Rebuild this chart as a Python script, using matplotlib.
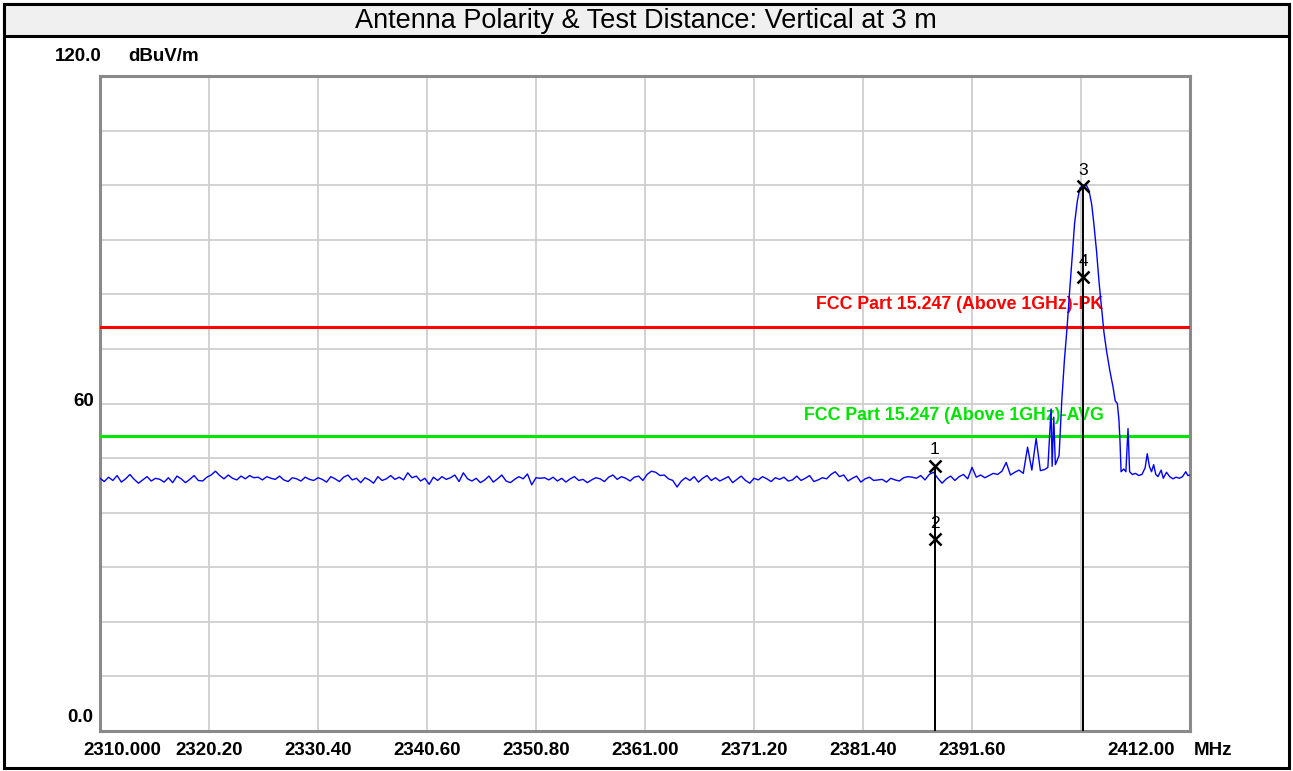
import numpy as np
import matplotlib
matplotlib.use("Agg")
import matplotlib.pyplot as plt
from matplotlib.patches import Rectangle

# ---------------- data ----------------
title = "Antenna Polarity & Test Distance: Vertical at 3 m"
y_unit = "dBuV/m"
x_unit = "MHz"

x_min, x_max = 2310.0, 2412.0
y_min, y_max = 0.0, 120.0
x_grid = [2320.2, 2330.4, 2340.6, 2350.8, 2361.0, 2371.2, 2381.4, 2391.6, 2401.8]
y_grid = [10, 20, 30, 40, 50, 60, 70, 80, 90, 100, 110]
x_tick_pos = [2310.0, 2320.2, 2330.4, 2340.6, 2350.8, 2361.0, 2371.2, 2381.4, 2391.6, 2412.0]
x_tick_text = ["2310.000", "2320.20", "2330.40", "2340.60", "2350.80", "2361.00",
               "2371.20", "2381.40", "2391.60", "2412.00"]
y_tick_pos = [120.0, 60.0, 0.0]
y_tick_text = ["120.0", "60", "0.0"]

# swept noise floor, 0.4 MHz sample spacing from 2310.0 to 2398.0 MHz
noise_start = 2310.0
noise_step = 0.4
noise_level = [
    46.3, 45.7, 46.5, 45.9, 46.8, 45.6, 46.2, 47.0, 46.1, 45.4,
    46.0, 46.6, 45.8, 46.3, 46.1, 45.6, 46.4, 45.5, 46.7, 46.2,
    45.5, 46.1, 46.8, 45.9, 45.8, 46.5, 46.9, 47.6, 46.8, 46.2,
    46.9, 46.3, 46.0, 46.7, 46.2, 46.8, 46.4, 46.5, 46.0, 46.6,
    46.3, 46.1, 46.7, 46.0, 45.7, 46.4, 46.2, 45.8, 46.5, 46.1,
    45.9, 46.4, 46.1, 45.6, 46.6, 46.2, 45.7, 46.5, 46.9, 46.0,
    46.3, 45.5, 46.4, 46.0, 45.4, 46.6, 45.9, 46.2, 46.8, 46.1,
    46.5, 46.0, 47.3, 46.4, 46.7, 45.8, 46.3, 45.2, 46.5, 45.9,
    46.6, 46.1, 46.4, 46.9, 45.7, 47.3, 46.2, 45.8, 46.3, 45.5,
    46.0, 46.7, 45.6, 46.2, 46.9, 45.8, 45.5, 46.1, 46.6, 46.2,
    47.1, 45.1, 46.4, 46.3, 46.4, 46.0, 46.5, 45.8, 46.3, 45.6,
    46.2, 46.6, 45.9, 46.1, 45.5, 46.0, 46.4, 46.2, 45.7, 46.5,
    46.9, 46.1, 46.6, 46.3, 45.8, 46.5, 46.7, 45.9, 47.0, 47.6,
    47.4, 46.8, 46.9, 46.2, 45.9, 44.7, 45.8, 46.4, 45.9, 46.6,
    45.6, 46.3, 46.8, 45.9, 46.4, 45.8, 46.2, 46.6, 45.5, 46.1,
    46.7, 45.9, 45.4, 46.3, 46.0, 46.6, 46.2, 45.7, 46.4, 46.1,
    46.5, 45.8, 46.0, 46.7, 45.9, 46.3, 46.8, 45.7, 46.0, 46.4,
    46.2, 47.0, 47.5, 46.6, 46.9, 45.8, 46.3, 46.7, 45.6, 46.2,
    46.5, 45.9, 46.0, 46.1, 45.6, 46.3, 46.0, 45.8, 46.4, 46.6,
    46.5, 46.3, 46.8, 46.0, 47.0, 47.4, 46.3, 45.4, 46.2, 46.7,
    45.9, 46.6, 47.0, 46.2, 48.3, 46.5, 46.9, 46.4, 46.8, 47.2,
    47.0, 47.6, 49.2, 46.9, 47.4, 47.8, 47.2, 52.0, 47.8, 53.6,
    47.7,
]

# carrier region and upper tail
carrier_freq = [2398.4, 2398.7, 2399.0, 2399.1, 2399.25, 2399.4, 2399.55, 2399.75,
                2400.0, 2400.25, 2400.5, 2400.75, 2401.0, 2401.2, 2401.45, 2401.7,
                2402.0, 2402.3, 2402.55, 2402.8, 2403.0, 2403.25, 2403.5, 2403.75,
                2403.95, 2404.2, 2404.5, 2404.8, 2405.0, 2405.2, 2405.35, 2405.45,
                2405.55, 2405.8, 2406.0, 2406.2, 2406.35, 2406.6, 2406.9, 2407.2,
                2407.5, 2407.8, 2408.0, 2408.2, 2408.4, 2408.6, 2408.8, 2409.0,
                2409.3, 2409.5, 2409.8, 2410.1, 2410.4, 2410.7, 2411.0, 2411.3,
                2411.6, 2411.8, 2412.0]
carrier_level = [47.9, 48.3, 59.0, 48.5, 57.5, 48.8, 49.5, 50.5,
                 60.5, 68.0, 74.0, 81.0, 87.5, 93.0, 97.0, 99.5,
                 100.0, 100.0, 99.0, 96.5, 93.0, 88.0, 82.0, 77.0,
                 73.0, 69.5, 66.0, 63.0, 60.5, 60.0, 57.0, 53.0,
                 47.5, 48.0, 47.5, 55.4, 47.5, 47.0, 47.2, 46.8,
                 47.0, 48.2, 50.8, 48.5, 47.5, 48.8, 47.0, 46.6,
                 47.8, 46.3, 47.4, 46.6, 46.2, 46.5, 46.3, 46.6,
                 47.5, 46.8, 46.9]

pk_limit = 74.0
avg_limit = 54.0
pk_label = "FCC Part 15.247 (Above 1GHz)-PK"
avg_label = "FCC Part 15.247 (Above 1GHz)-AVG"
limit_label_x = 2403.9

marker_ids = ["1", "2", "3", "4"]
marker_freq = [2388.1, 2388.1, 2402.0, 2402.0]
marker_level = [48.6, 35.2, 99.8, 83.1]

# ---------------- figure ----------------
W, H = 1293, 771
fig = plt.figure(figsize=(W / 100, H / 100), dpi=100)
fig.patch.set_facecolor("white")

def fx(px):
    return px / W

def fy(py):
    return 1 - py / H

arial = ["Liberation Sans", "DejaVu Sans"]
lab = dict(fontsize=13.5, fontweight="bold", family=arial)

# outer frame and title bar
fig.add_artist(Rectangle((fx(4), fy(768)), fx(1289) - fx(4), fy(4) - fy(768),
                         transform=fig.transFigure, fill=False, edgecolor="black",
                         linewidth=2.2))
fig.add_artist(Rectangle((fx(4), fy(36)), fx(1289) - fx(4), fy(4) - fy(36),
                         transform=fig.transFigure, facecolor="#F0F0F0",
                         edgecolor="black", linewidth=2.2))
fig.text(fx(646), fy(21), title, ha="center", va="center", fontsize=19.5,
         family=arial, color="black")

ax = fig.add_axes([fx(100), fy(731), fx(1190) - fx(100), fy(76) - fy(731)])
ax.set_xlim(x_min, x_max)
ax.set_ylim(y_min, y_max)
for s in ax.spines.values():
    s.set_color("#8a8a8a")
    s.set_linewidth(2.2)
ax.set_xticks([])
ax.set_yticks([])

for g in x_grid:
    ax.axvline(g, color="#cfcfcf", linewidth=1.3, zorder=1)
for g in y_grid:
    ax.axhline(g, color="#cfcfcf", linewidth=1.3, zorder=1)

# limit lines
ax.axhline(pk_limit, color="#FF0000", linewidth=2.2, zorder=3)
ax.axhline(avg_limit, color="#00E600", linewidth=2.2, zorder=3)
ax.annotate(pk_label, (limit_label_x, pk_limit), xytext=(0, 16), textcoords="offset points",
            ha="right", va="center", color="#FF0000", fontsize=12.8, fontweight="bold",
            family=arial, zorder=4)
ax.annotate(avg_label, (limit_label_x, avg_limit), xytext=(0, 15), textcoords="offset points",
            ha="right", va="center", color="#00E600", fontsize=12.8, fontweight="bold",
            family=arial, zorder=4)

# trace
noise_freq = noise_start + noise_step * np.arange(len(noise_level))
freq = np.concatenate([noise_freq, carrier_freq])
level = np.concatenate([noise_level, carrier_level])
ax.plot(freq, level, color="#0000FF", linewidth=1.0, zorder=5)

# markers
for mid, mf, ml in zip(marker_ids, marker_freq, marker_level):
    ax.plot([mf, mf], [y_min, ml], color="black", linewidth=1.4, zorder=6)
    ax.plot(mf, ml, marker="x", markersize=8.5, markeredgewidth=1.8, color="black", zorder=7)
    ax.annotate(mid, (mf, ml), xytext=(0, 6), textcoords="offset points", ha="center",
                va="bottom", fontsize=12.5, family=arial, color="black", zorder=7)

# axis labels
xt = ax.get_xaxis_transform()
x_offsets = {0: 16, len(x_tick_pos) - 1: -35}
for i, (p, t) in enumerate(zip(x_tick_pos, x_tick_text)):
    ax.annotate(t, (p, 0), xycoords=xt, xytext=(x_offsets.get(i, 0), -14),
                textcoords="offset points", ha="center", va="center",
                annotation_clip=False, **lab)
ax.annotate(x_unit, (x_max, 0), xycoords=xt, xytext=(3, -14), textcoords="offset points",
            ha="left", va="center", annotation_clip=False, **lab)

yt = ax.get_yaxis_transform()
y_text_offsets = {0: (1, 14), 1: (-4.5, 1.5), 2: (-4.5, 9.5)}
for i, (p, t) in enumerate(zip(y_tick_pos, y_tick_text)):
    ax.annotate(t, (0, p), xycoords=yt, xytext=y_text_offsets[i], textcoords="offset points",
                ha="right", va="center", annotation_clip=False, **lab)
ax.annotate(y_unit, (0, y_max), xycoords=yt, xytext=(20, 14), textcoords="offset points",
            ha="left", va="center", annotation_clip=False, **lab)

fig.savefig("out.png", dpi=100)
